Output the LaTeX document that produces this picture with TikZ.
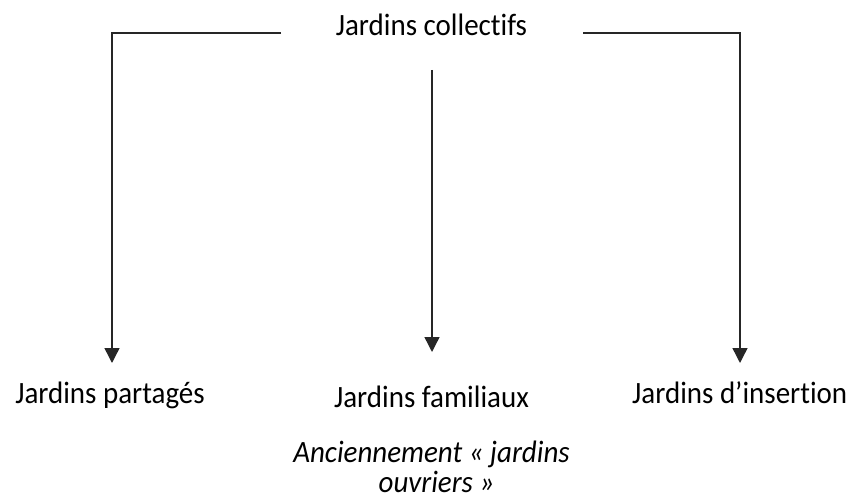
\documentclass[tikz,border=0pt]{standalone}
\usepackage{fontspec}
\setmainfont{Carlito}[Ligatures=NoCommon, FakeStretch=0.935]
\usetikzlibrary{arrows.meta}
\tikzset{
  lbl/.style={inner sep=0pt, anchor=base, font=\fontsize{31}{32}\selectfont},
  ilbl/.style={lbl, font=\fontsize{31}{32}\selectfont\itshape},
  conn/.style={line width=1.4pt, draw=black!85},
  arr/.style={conn, -{Triangle[length=15pt,width=15pt]}}
}
\begin{document}
\begin{tikzpicture}[x=1pt,y=-1pt]
\useasboundingbox (0,0) rectangle (852,500);
\node[lbl] (top) at (431.5,36) {Jardins collectifs};
\node[lbl] (part) at (110,403) {Jardins partagés};
\node[lbl] (fam) at (431.5,407) {Jardins familiaux};
\node[lbl, anchor=base west] (ins) at (632,403) {Jardins d’insertion};
\node[ilbl] (anc1) at (431.5,462) {Anciennement « jardins};
\node[ilbl] (anc2) at (436.5,492) {ouvriers »};
\coordinate (ls) at (281,33);
\coordinate (lt) at (112,363);
\coordinate (ms) at (432,70);
\coordinate (mt) at (432,352);
\coordinate (rs) at (583,33);
\coordinate (rt) at (740,363);
\draw[arr] (ls) -| (lt);
\draw[arr] (ms) -- (mt);
\draw[arr] (rs) -| (rt);
\end{tikzpicture}
\end{document}
